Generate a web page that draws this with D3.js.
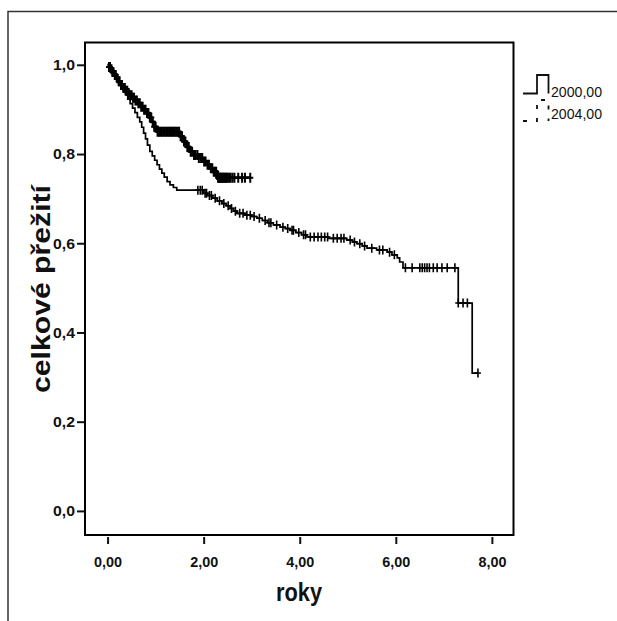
<!DOCTYPE html>
<html>
<head>
<meta charset="utf-8">
<script src="https://cdn.jsdelivr.net/npm/d3@7"></script>
<style>
  html, body { margin: 0; padding: 0; background: #fff; }
  svg { display: block; }
  text { font-family: "Liberation Sans", Arial, sans-serif; fill: #111; }
</style>
</head>
<body>
<svg id="chart" width="617" height="621"></svg>
<script>
// Kaplan–Meier estimate: event times (years) and survival after each event
const years2000 = [0.04,0.08,0.12,0.16,0.20,0.24,0.28,0.32,0.37,0.42,0.47,0.52,0.57,0.62,0.67,0.71,0.75,0.79,0.83,0.88,0.93,0.98,1.03,1.08,1.13,1.18,1.24,1.30,1.37,1.44,2.00,2.08,2.19,2.28,2.38,2.47,2.55,2.62,2.69,2.85,3.00,3.11,3.22,3.33,3.45,3.59,3.70,3.80,3.92,4.04,4.15,4.60,4.98,5.10,5.19,5.30,5.40,5.60,5.82,5.92,6.03,6.08,6.15,7.30,7.59];
const surv2000  = [0.996,0.990,0.983,0.975,0.966,0.958,0.950,0.942,0.933,0.923,0.913,0.903,0.893,0.882,0.872,0.860,0.847,0.834,0.820,0.806,0.796,0.786,0.776,0.766,0.757,0.748,0.738,0.731,0.725,0.719,0.712,0.707,0.701,0.695,0.689,0.684,0.678,0.672,0.667,0.663,0.660,0.656,0.651,0.646,0.641,0.636,0.633,0.629,0.624,0.619,0.614,0.611,0.607,0.603,0.599,0.594,0.589,0.585,0.580,0.574,0.567,0.558,0.545,0.466,0.309];
const censored2000 = [1.88,1.93,1.97,2.03,2.06,2.12,2.16,2.24,2.33,2.42,2.51,2.58,2.66,2.75,2.82,2.90,2.97,3.05,3.16,3.28,3.36,3.40,3.52,3.65,3.75,3.84,3.87,3.98,4.08,4.12,4.22,4.30,4.38,4.45,4.52,4.58,4.70,4.78,4.86,4.92,5.05,5.14,5.25,5.35,5.50,5.66,5.73,5.87,5.97,6.20,6.34,6.50,6.55,6.60,6.65,6.70,6.78,6.86,6.96,7.07,7.23,7.30,7.40,7.49,7.71];

const years2004 = [0.03,0.06,0.10,0.14,0.18,0.22,0.27,0.32,0.37,0.42,0.47,0.53,0.58,0.64,0.70,0.76,0.82,0.87,0.92,0.97,1.03,1.50,1.57,1.64,1.71,1.80,1.89,1.98,2.07,2.14,2.21,2.28,2.30];
const surv2004  = [0.995,0.990,0.984,0.977,0.970,0.963,0.955,0.948,0.942,0.937,0.932,0.926,0.920,0.914,0.906,0.899,0.892,0.882,0.872,0.861,0.850,0.840,0.828,0.816,0.805,0.798,0.791,0.783,0.776,0.768,0.760,0.753,0.747];
const censored2004 = [0.03,0.05,0.08,0.10,0.12,0.15,0.17,0.20,0.23,0.25,0.28,0.30,0.33,0.36,0.39,0.41,0.44,0.47,0.50,0.53,0.55,0.58,0.61,0.64,0.67,0.70,0.73,0.76,0.79,0.82,0.85,0.88,0.91,0.94,0.97,1.00,1.04,1.07,1.10,1.13,1.16,1.19,1.22,1.25,1.28,1.31,1.34,1.37,1.40,1.43,1.46,1.49,1.52,1.55,1.59,1.62,1.66,1.69,1.73,1.76,1.80,1.83,1.87,1.90,1.94,1.97,2.01,2.04,2.08,2.11,2.15,2.18,2.21,2.24,2.26,2.28,2.30,2.32,2.34,2.36,2.38,2.40,2.42,2.44,2.46,2.48,2.50,2.53,2.56,2.60,2.64,2.72,2.80,2.86,2.97];

const xTicks = [0, 2, 4, 6, 8];
const yTicks = [0, 0.2, 0.4, 0.6, 0.8, 1.0];
const groupLabels = ["2000,00", "2004,00"];

const svg = d3.select("#chart");

// outer frame (only top and left edges fall inside the page)
svg.append("path")
  .attr("d", "M8,621 V11.5 H617")
  .attr("fill", "none").attr("stroke", "#333").attr("stroke-width", 1.5);

const box = { left: 85, right: 513.5, top: 42.5, bottom: 535 };

const x = d3.scaleLinear().domain([-0.47, 8.45]).range([box.left, box.right]);
const y = d3.scaleLinear().domain([-0.054, 1.05]).range([box.bottom, box.top]);

const fmtX = d => d3.format(".2f")(d).replace(".", ",");
const fmtY = d => d3.format(".1f")(d).replace(".", ",");

// axes
const xAxis = svg.append("g")
  .attr("transform", `translate(0,${box.bottom + 2})`)
  .call(d3.axisBottom(x).tickValues(xTicks).tickFormat(fmtX).tickSize(7).tickPadding(12));
const yAxis = svg.append("g")
  .attr("transform", `translate(${box.left - 1},0)`)
  .call(d3.axisLeft(y).tickValues(yTicks).tickFormat(fmtY).tickSize(7).tickPadding(2));
[xAxis, yAxis].forEach(g => {
  g.select(".domain").remove();
  g.selectAll(".tick line").attr("stroke", "#111").attr("stroke-width", 2);
  g.selectAll(".tick text")
    .style("font-family", "'Liberation Sans', Arial, sans-serif")
    .style("font-size", "15.5px").style("font-weight", "bold").attr("fill", "#111");
});
xAxis.selectAll(".tick text").attr("textLength", 28).attr("lengthAdjust", "spacingAndGlyphs");
yAxis.selectAll(".tick text").attr("textLength", 22).attr("lengthAdjust", "spacingAndGlyphs");

// plot frame
svg.append("rect")
  .attr("x", box.left).attr("y", box.top)
  .attr("width", box.right - box.left).attr("height", box.bottom - box.top)
  .attr("fill", "none").attr("stroke", "#000").attr("stroke-width", 2);

// axis titles
svg.append("text")
  .attr("x", 299).attr("y", 601)
  .attr("text-anchor", "middle")
  .attr("textLength", 46).attr("lengthAdjust", "spacingAndGlyphs")
  .style("font-size", "26px").style("font-weight", "bold")
  .text("roky");

svg.append("text")
  .attr("transform", "translate(50,289) rotate(-90)")
  .attr("text-anchor", "middle")
  .attr("textLength", 208).attr("lengthAdjust", "spacingAndGlyphs")
  .style("font-size", "26px").style("font-weight", "bold")
  .text("celkové přežití");

// survival curves
function stepPoints(times, surv, censored) {
  const pts = [[0, 1]];
  times.forEach((t, i) => pts.push([t, surv[i]]));
  const last = Math.max(d3.max(times), d3.max(censored));
  pts.push([last, surv[surv.length - 1]]);
  return pts;
}
function survAt(times, surv, t) {
  let s = 1;
  times.forEach((tt, i) => { if (tt <= t) s = surv[i]; });
  return s;
}

const line = d3.line()
  .x(d => x(d[0])).y(d => y(d[1]))
  .curve(d3.curveStepAfter);

const groups = [
  { times: years2000, surv: surv2000, cens: censored2000, lw: 1.7, mw: 1.6, mh: 4.5 },
  { times: years2004, surv: surv2004, cens: censored2004, lw: 2.6, mw: 2.0, mh: 5 }
];

groups.forEach(g => {
  svg.append("path")
    .datum(stepPoints(g.times, g.surv, g.cens))
    .attr("d", line)
    .attr("fill", "none").attr("stroke", "#000").attr("stroke-width", g.lw);

  svg.append("g").selectAll("path")
    .data(g.cens)
    .join("path")
    .attr("d", t => {
      const cx = x(t), cy = y(survAt(g.times, g.surv, t));
      return `M${cx - 3},${cy} H${cx + 3} M${cx},${cy - g.mh} V${cy + g.mh}`;
    })
    .attr("fill", "none").attr("stroke", "#000").attr("stroke-width", g.mw);
});

// legend
const legend = svg.append("g");
legend.append("path")
  .attr("d", "M523,93.5 H537 V75 H548.5 V93.5")
  .attr("fill", "none").attr("stroke", "#111").attr("stroke-width", 1.8);
legend.append("path")
  .attr("d", "M523,121 H537 V100 H548.5 V121")
  .attr("fill", "none").attr("stroke", "#111").attr("stroke-width", 1.8)
  .attr("stroke-dasharray", "4,9");
legend.selectAll("text.lbl")
  .data(groupLabels)
  .join("text")
  .attr("class", "lbl")
  .attr("x", 551).attr("y", (d, i) => 97 + i * 21.5)
  .attr("textLength", 51).attr("lengthAdjust", "spacingAndGlyphs")
  .style("font-size", "15px")
  .text(d => d);
</script>
</body>
</html>
